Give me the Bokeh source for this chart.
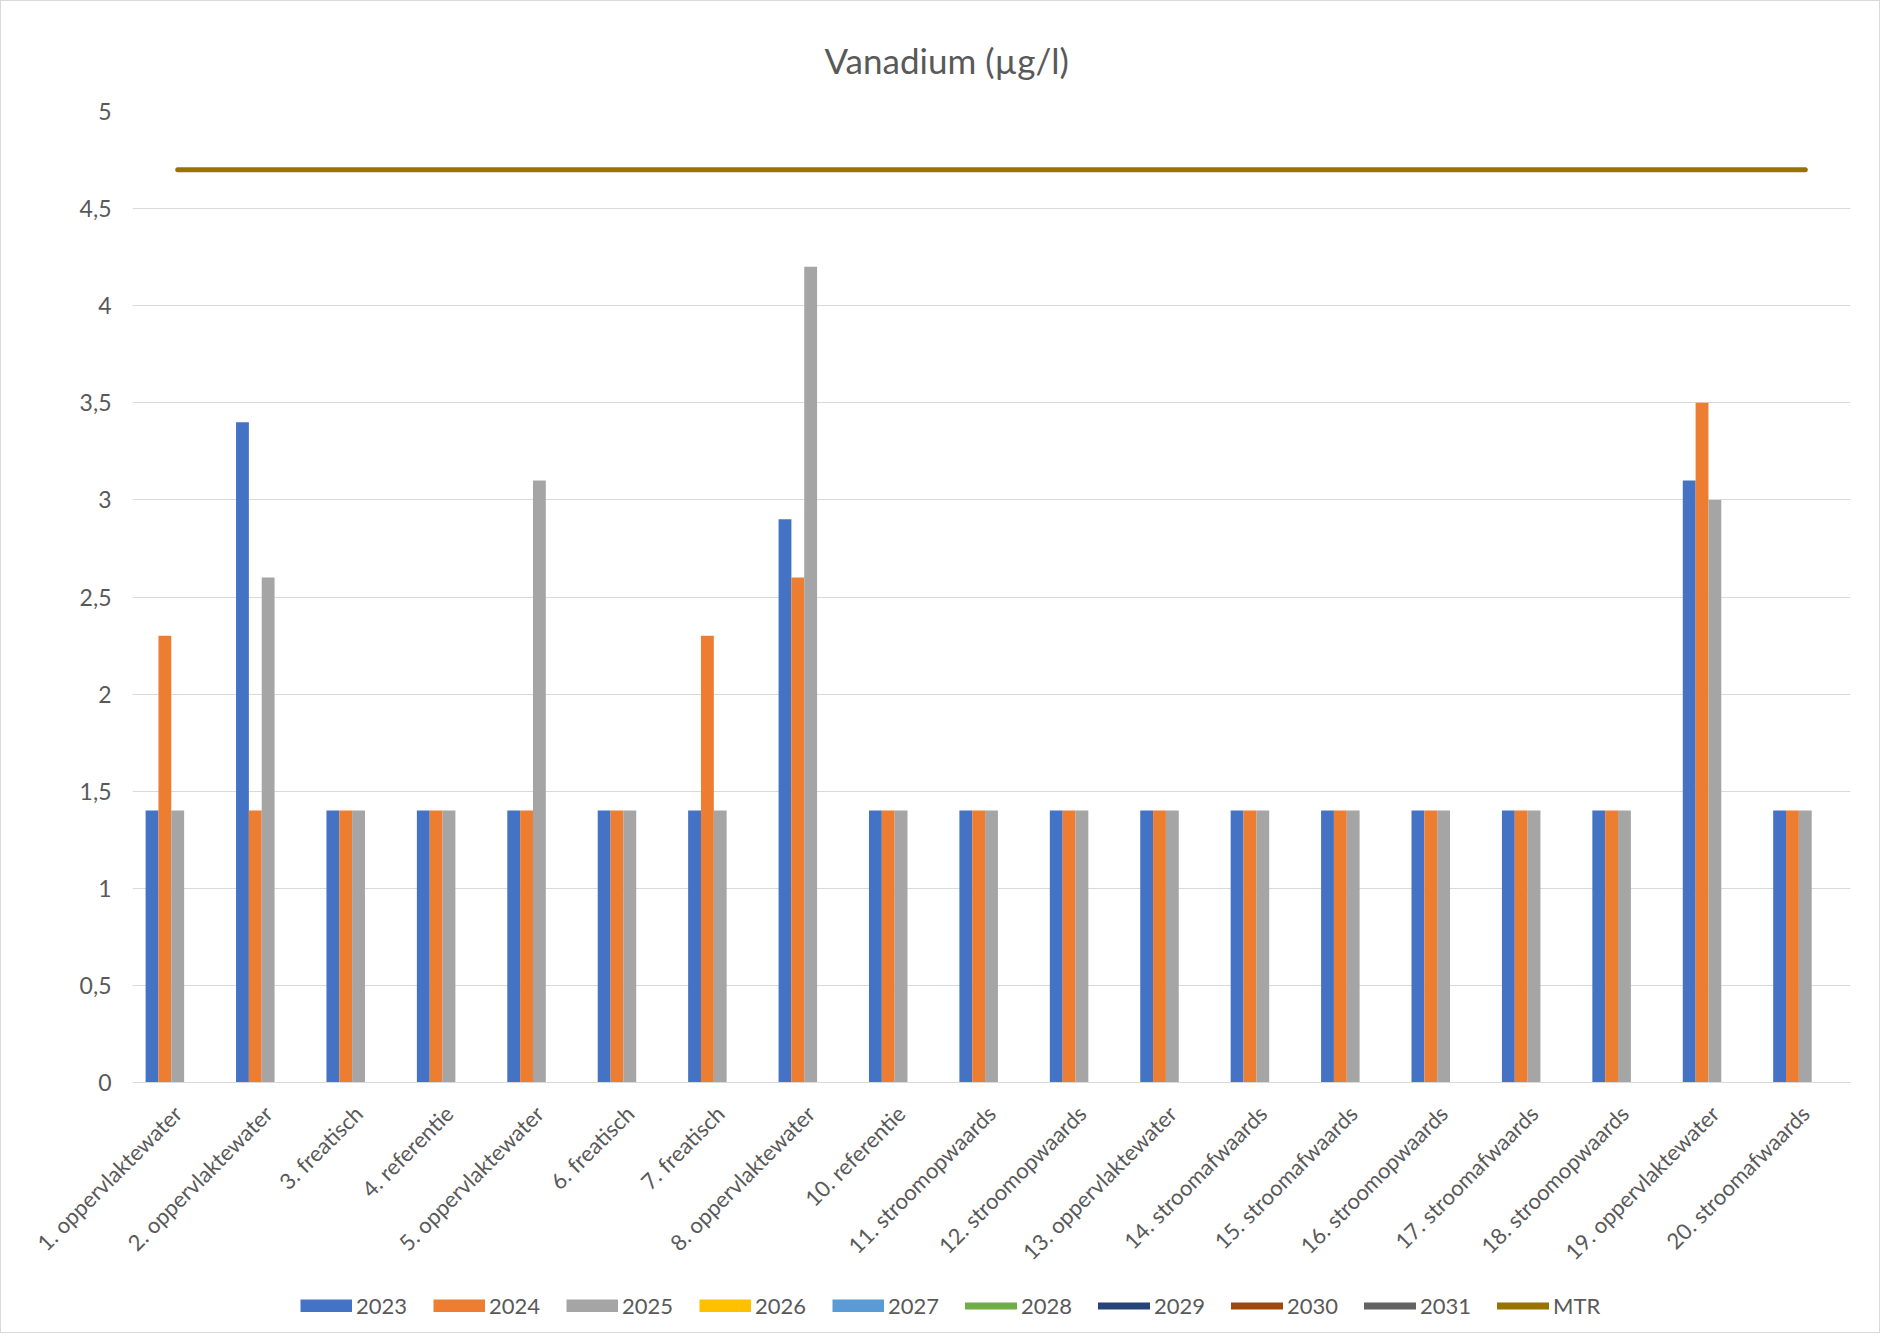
import math
from bokeh.plotting import figure
from bokeh.layouts import column
from bokeh.models import (FactorRange, Range1d, ColumnDataSource, Legend, LegendItem,
                          FixedTicker)
from bokeh.transform import dodge
from bokeh.embed import file_html
from bokeh.resources import INLINE

NaN = float("nan")

# ---------------- data ----------------
categories = [
    "1. oppervlaktewater", "2. oppervlaktewater", "3. freatisch", "4. referentie",
    "5. oppervlaktewater", "6. freatisch", "7. freatisch", "8. oppervlaktewater",
    "10. referentie", "11. stroomopwaards", "12. stroomopwaards", "13. oppervlaktewater",
    "14. stroomafwaards", "15. stroomafwaards", "16. stroomopwaards", "17. stroomafwaards",
    "18. stroomopwaards", "19. oppervlaktewater", "20. stroomafwaards",
]
v2023 = [1.4, 3.4, 1.4, 1.4, 1.4, 1.4, 1.4, 2.9, 1.4, 1.4, 1.4, 1.4, 1.4, 1.4, 1.4, 1.4, 1.4, 3.1, 1.4]
v2024 = [2.3, 1.4, 1.4, 1.4, 1.4, 1.4, 2.3, 2.6, 1.4, 1.4, 1.4, 1.4, 1.4, 1.4, 1.4, 1.4, 1.4, 3.5, 1.4]
v2025 = [1.4, 2.6, 1.4, 1.4, 3.1, 1.4, 1.4, 4.2, 1.4, 1.4, 1.4, 1.4, 1.4, 1.4, 1.4, 1.4, 1.4, 3.0, 1.4]
v2026 = [NaN] * len(categories)   # no measurements (yet)
v2027 = [NaN] * len(categories)
v2028 = [NaN] * len(categories)
v2029 = [NaN] * len(categories)
v2030 = [NaN] * len(categories)
v2031 = [NaN] * len(categories)
mtr_value = 4.7

bar_series = ["2023", "2024", "2025", "2026", "2027"]
line_series = ["2028", "2029", "2030", "2031"]
y_ticks = [0, 0.5, 1, 1.5, 2, 2.5, 3, 3.5, 4, 4.5, 5]
y_tick_labels = ["0", "0,5", "1", "1,5", "2", "2,5", "3", "3,5", "4", "4,5", "5"]

bar_colors = ["#4472C4", "#ED7D31", "#A5A5A5", "#FFC000", "#5B9BD5"]
line_colors = ["#70AD47", "#264478", "#9E480E", "#636363"]
mtr_color = "#997300"

FONT = "Lato"
TXT = "#595959"
GRID = "#d9d9d9"

# ---------------- main chart ----------------
p = figure(x_range=FactorRange(*categories), y_range=Range1d(0, 5),
           width=1878, height=1281, output_backend="svg", toolbar_location=None,
           min_border_left=131, min_border_right=29, min_border_top=110, min_border_bottom=200)
p.outline_line_color = None
p.background_fill_color = "white"
p.border_fill_color = "white"

p.title.text = "Vanadium (µg/l)"
p.title.align = "left"
p.title.offset = 692
p.title.vertical_align = "middle"
p.title.text_font = FONT
p.title.text_font_size = "35px"
p.title.text_font_style = "normal"
p.title.text_color = TXT
p.title.standoff = 60

bw = 0.142
bar_data = [v2023, v2024, v2025, v2026, v2027]
for i, (name, vals, col) in enumerate(zip(bar_series, bar_data, bar_colors)):
    src = ColumnDataSource(dict(cat=categories, v=vals))
    off = (i - 2) * bw
    p.vbar(x=dodge("cat", off, range=p.x_range), top="v", bottom=0, width=bw,
           source=src, fill_color=col, line_color=None)

line_data = [v2028, v2029, v2030, v2031]
for name, vals, col in zip(line_series, line_data, line_colors):
    p.line(x=categories, y=vals, line_color=col, line_width=6, line_cap="round")

mtr_src = ColumnDataSource(dict(x=[categories[0], categories[-1]], y=[mtr_value, mtr_value]))
p.line(x="x", y="y", source=mtr_src, line_color=mtr_color, line_width=5, line_cap="round")

# axes
p.yaxis.ticker = FixedTicker(ticks=y_ticks)
p.yaxis.major_label_overrides = dict(zip(y_ticks, y_tick_labels))
p.yaxis.axis_line_color = None
p.yaxis.major_tick_line_color = None
p.yaxis.minor_tick_line_color = None
p.yaxis.major_label_text_font = FONT
p.yaxis.major_label_text_font_size = "23px"
p.yaxis.major_label_text_color = TXT
p.yaxis.major_label_standoff = 15

p.xaxis.major_label_orientation = math.pi / 4
p.xaxis.axis_line_color = GRID
p.xaxis.axis_line_width = 1
p.xaxis.major_tick_line_color = None
p.xaxis.minor_tick_line_color = None
p.xaxis.major_label_text_font = FONT
p.xaxis.major_label_text_font_size = "22px"
p.xaxis.major_label_text_color = TXT
p.xaxis.major_label_standoff = 21

p.xgrid.grid_line_color = None
p.ygrid.grid_line_color = GRID
p.ygrid.grid_line_width = 1
p.ygrid.ticker = FixedTicker(ticks=y_ticks)

# ---------------- legend strip ----------------
lg = figure(width=1878, height=50, output_backend="svg", toolbar_location=None,
            x_range=Range1d(0, 1), y_range=Range1d(0, 1),
            x_axis_type=None, y_axis_type=None,
            min_border_left=0, min_border_right=0, min_border_top=0, min_border_bottom=0)
lg.outline_line_color = None
lg.xgrid.visible = False
lg.ygrid.visible = False
lg.background_fill_color = "white"
lg.border_fill_color = "white"

items = []
for name, col in zip(bar_series, bar_colors):
    r = lg.line(x=[NaN], y=[NaN], line_color=col, line_width=13, line_cap="butt")
    items.append(LegendItem(label=name, renderers=[r]))
for name, col in zip(line_series, line_colors):
    r = lg.line(x=[NaN], y=[NaN], line_color=col, line_width=7, line_cap="round")
    items.append(LegendItem(label=name, renderers=[r]))
r = lg.line(x=[NaN], y=[NaN], line_color=mtr_color, line_width=7, line_cap="round")
items.append(LegendItem(label="MTR", renderers=[r]))

legend = Legend(items=items, orientation="horizontal", location=(168, 13),
                glyph_width=52, glyph_height=13, label_standoff=4, spacing=25,
                padding=0, margin=0, border_line_color=None, background_fill_alpha=0,
                label_text_font=FONT, label_text_font_size="22px", label_text_color=TXT,
                label_width=52)
lg.add_layout(legend)

layout = column(p, lg, spacing=0)
layout.styles = {"border": "1px solid #d9d9d9"}

open("out.html", "w").write(file_html(layout, INLINE))
